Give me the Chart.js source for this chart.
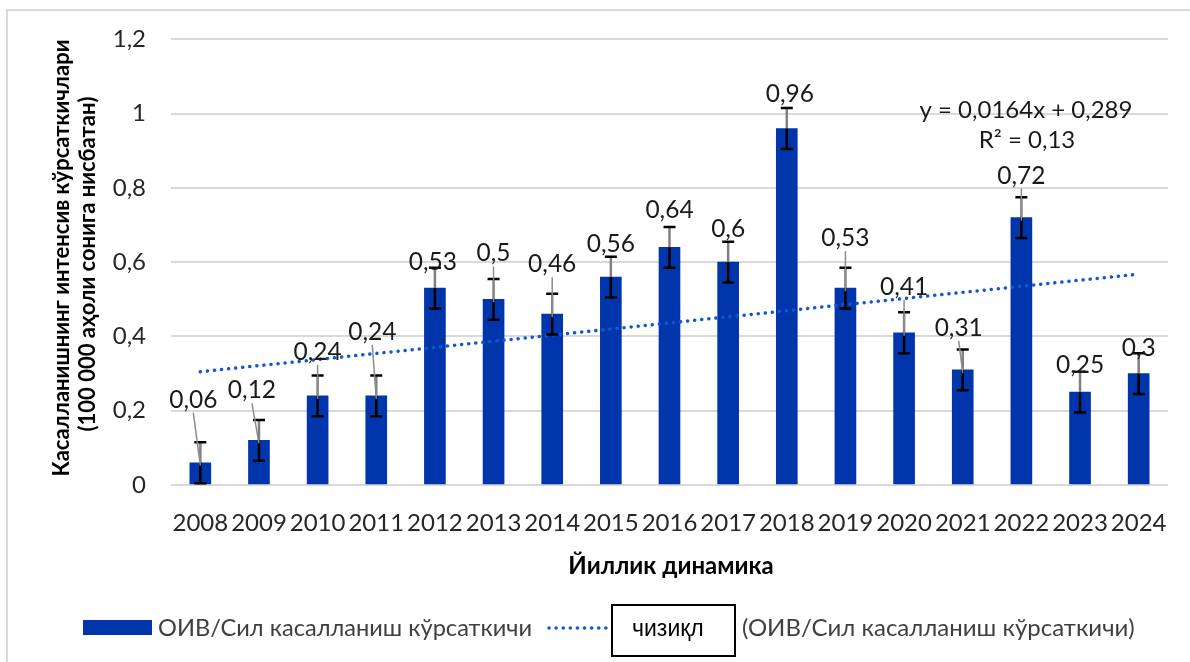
<!DOCTYPE html>
<html>
<head>
<meta charset="utf-8">
<script src="https://cdn.jsdelivr.net/npm/chart.js@4.4.1/dist/chart.umd.min.js"></script>
<style>
  body { margin: 0; background: #fff; }
  #wrap { width: 1190px; height: 662px; position: relative; }
</style>
</head>
<body>
<div id="wrap"><canvas id="chart"></canvas></div>
<script>
// data
const years = ['2008', '2009', '2010', '2011', '2012', '2013', '2014', '2015', '2016',
  '2017', '2018', '2019', '2020', '2021', '2022', '2023', '2024'];
const incidence = [0.06, 0.12, 0.24, 0.24, 0.53, 0.5, 0.46, 0.56, 0.64,
  0.6, 0.96, 0.53, 0.41, 0.31, 0.72, 0.25, 0.3];
const errorMargin = [0.055, 0.055, 0.055, 0.055, 0.055, 0.055, 0.055, 0.055, 0.055,
  0.055, 0.055, 0.055, 0.055, 0.055, 0.055, 0.055, 0.055];
// linear trend, only its two ends
const trendLine = [0.305, null, null, null, null, null, null, null, null,
  null, null, null, null, null, null, null, 0.568];
const yTicks = [0, 0.2, 0.4, 0.6, 0.8, 1, 1.2];

const yTitle = ['Касалланишнинг интенсив кўрсаткичлари', '(100 000 аҳоли сонига нисбатан)'];
const xTitle = 'Йиллик динамика';
const barLegend = 'ОИВ/Сил касалланиш кўрсаткичи';
const trendLegend = '(ОИВ/Сил касалланиш кўрсаткичи)';
const trendBox = 'чизиқл';
const equation = ['y = 0,0164x + 0,289', 'R² = 0,13'];

// where each data label sits relative to its bar top (px)
const labelLift = [63, 50, 44, 64, 26, 46, 50, 33, 37, 33, 34, 50, 46, 42, 42, 27, 26];
const labelShift = [-7, -7, 0, -4, -2, 0, 0, 0, 0, 0, 3, 0, 0, -4, 0, 0, 0];

const fontFam = 'Lato, "Open Sans", sans-serif';
const barColor = '#0035ab';
const trendColor = '#1257d0';
const comma = (v) => String(v).replace('.', ',');

const extras = {
  id: 'extras',
  beforeDraw(chart) {
    const ctx = chart.ctx;
    ctx.save();
    ctx.fillStyle = '#fff';
    ctx.fillRect(0, 0, chart.width, chart.height);
    ctx.strokeStyle = '#d9d9d9';
    ctx.lineWidth = 2;
    ctx.beginPath();
    ctx.moveTo(7, chart.height);
    ctx.lineTo(7, 10);
    ctx.lineTo(chart.width, 10);
    ctx.stroke();
    ctx.restore();
  },
  afterDatasetsDraw(chart) {
    const ctx = chart.ctx;
    const y = chart.scales.y;
    const bars = chart.getDatasetMeta(1).data;
    ctx.save();
    bars.forEach((bar, i) => {
      const v = incidence[i];
      const e = errorMargin[i];
      const x = bar.x;
      const top = y.getPixelForValue(v + e);
      const bot = y.getPixelForValue(Math.max(0, v - e));
      // error bar
      ctx.lineWidth = 2.5;
      ctx.strokeStyle = '#808080';
      ctx.beginPath();
      ctx.moveTo(x, top);
      ctx.lineTo(x, bar.y);
      ctx.stroke();
      ctx.strokeStyle = '#000';
      ctx.beginPath();
      ctx.moveTo(x, bar.y);
      ctx.lineTo(x, bot);
      ctx.moveTo(x - 6, top);
      ctx.lineTo(x + 6, top);
      ctx.moveTo(x - 6, bot);
      ctx.lineTo(x + 6, bot);
      ctx.stroke();

      // data label + leader
      const lx = x + labelShift[i];
      const ly = bar.y - labelLift[i];
      if (labelLift[i] > 40) {
        ctx.strokeStyle = '#8c8c8c';
        ctx.lineWidth = 1.5;
        ctx.beginPath();
        ctx.moveTo(lx, ly + 13);
        ctx.lineTo(x, bar.y + 3);
        ctx.stroke();
      }
      ctx.fillStyle = '#1a1a1a';
      ctx.font = '24.5px ' + fontFam;
      ctx.textAlign = 'center';
      ctx.textBaseline = 'middle';
      ctx.fillText(comma(v), lx, ly);
    });
    ctx.restore();
  },
  afterDraw(chart) {
    const ctx = chart.ctx;
    ctx.save();
    ctx.textBaseline = 'middle';
    ctx.textAlign = 'center';

    // axis titles
    ctx.fillStyle = '#000';
    ctx.font = 'bold 24px ' + fontFam;
    ctx.fillText(xTitle, 671, 566);
    ctx.save();
    ctx.translate(62, 258);
    ctx.rotate(-Math.PI / 2);
    ctx.font = 'bold 22px ' + fontFam;
    ctx.fillText(yTitle[0], 0, 0);
    ctx.fillText(yTitle[1], -6, 26);
    ctx.restore();

    // trend equation
    ctx.fillStyle = '#1a1a1a';
    ctx.font = '24px ' + fontFam;
    ctx.fillText(equation[0], 1026, 110);
    ctx.fillText(equation[1], 1027, 140);

    // legend
    ctx.textAlign = 'left';
    ctx.fillStyle = barColor;
    ctx.fillRect(83, 620, 69, 15);
    ctx.fillStyle = '#404040';
    ctx.font = '23.6px ' + fontFam;
    ctx.fillText(barLegend, 158, 628);

    ctx.strokeStyle = trendColor;
    ctx.lineWidth = 3.5;
    ctx.lineCap = 'round';
    ctx.setLineDash([0.1, 7]);
    ctx.beginPath();
    ctx.moveTo(549, 628);
    ctx.lineTo(612, 628);
    ctx.stroke();
    ctx.setLineDash([]);
    ctx.lineCap = 'butt';

    ctx.fillStyle = '#fff';
    ctx.fillRect(612, 605, 123, 51);
    ctx.strokeStyle = '#000';
    ctx.lineWidth = 2;
    ctx.strokeRect(612, 605, 123, 51);
    ctx.fillStyle = '#000';
    ctx.font = '23px "Liberation Sans", Arial, sans-serif';
    ctx.fillText(trendBox, 632, 630);

    ctx.fillStyle = '#404040';
    ctx.font = '24px ' + fontFam;
    ctx.fillText(trendLegend, 742, 628);
    ctx.restore();
  }
};

new Chart(document.getElementById('chart'), {
  type: 'bar',
  data: {
    labels: years,
    datasets: [
      {
        type: 'line',
        data: trendLine,
        spanGaps: true,
        borderColor: trendColor,
        borderWidth: 3.5,
        borderDash: [0.1, 7],
        borderCapStyle: 'round',
        pointRadius: 0,
        fill: false,
        order: 0
      },
      {
        data: incidence,
        backgroundColor: barColor,
        barThickness: 21,
        order: 1
      }
    ]
  },
  options: {
    responsive: true,
    maintainAspectRatio: false,
    animation: false,
    layout: { padding: { top: 38, right: 22, left: 0, bottom: 0 } },
    plugins: {
      legend: { display: false },
      tooltip: { enabled: false }
    },
    scales: {
      x: {
        grid: { display: false },
        border: { display: false },
        ticks: { color: '#262626', font: { size: 24, family: fontFam }, padding: 16, maxRotation: 0, autoSkip: false },
        afterFit(scale) { scale.height = 177; }
      },
      y: {
        min: 0,
        max: 1.2,
        afterBuildTicks(scale) { scale.ticks = yTicks.map((v) => ({ value: v })); },
        grid: { color: '#d9d9d9', lineWidth: 2, drawTicks: false },
        border: { display: false },
        ticks: {
          color: '#262626',
          font: { size: 24, family: fontFam },
          padding: 25,
          callback: (v) => comma(Number(v.toFixed(1)))
        },
        afterFit(scale) { scale.width = 171; }
      }
    }
  },
  plugins: [extras]
});
</script>
</body>
</html>
